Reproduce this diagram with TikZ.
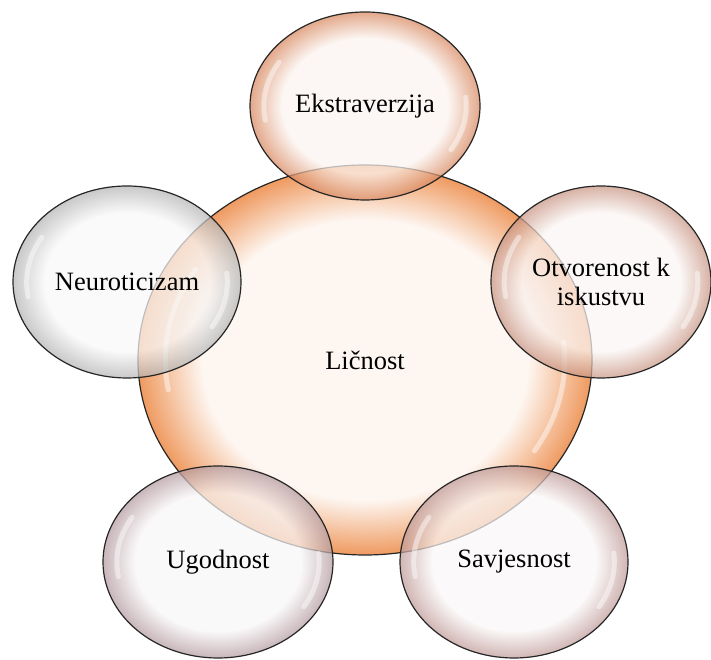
\documentclass[tikz,border=0pt]{standalone}
\usepackage{fontspec}
\setmainfont{Liberation Serif}
\usetikzlibrary{positioning,shapes.geometric}
\makeatletter
\pgfdeclareradialshading[tikz@radial@inner,tikz@radial@outer]{bubble}{\pgfpoint{0bp}{0bp}}{%
  color(0bp)=(tikz@radial@inner); color(18bp)=(tikz@radial@inner);
  color(25bp)=(tikz@radial@outer); color(50bp)=(tikz@radial@outer)}
\makeatother
\definecolor{licnostrim}{HTML}{EF9A60}
\definecolor{ekstrrim}{HTML}{D8875E}
\definecolor{neurorim}{HTML}{B4B4B4}
\definecolor{otvorrim}{HTML}{C89482}
\definecolor{ugodrim}{HTML}{B39AA0}
\definecolor{savjrim}{HTML}{BF9A98}
\newcommand{\glint}[3]{%
  \draw[gloss] ([shift={(148:0.88*#2 and 0.88*#3)}]#1.center)
    arc[start angle=148,end angle=190,x radius=0.88*#2,y radius=0.88*#3];
  \draw[gloss] ([shift={(-32:0.88*#2 and 0.88*#3)}]#1.center)
    arc[start angle=-32,end angle=6,x radius=0.88*#2,y radius=0.88*#3];}

\begin{document}
\begin{tikzpicture}[x=1pt,y=1pt,on grid]
    \tikzstyle{every node}=[ellipse,draw=black!85,line width=1.2,inner sep=0,align=center,font=\fontsize{26.5}{29}\selectfont]
    \tikzstyle{glass}=[inner color=#1!9!white,outer color=#1,shading=bubble]
    \tikzstyle{trait}=[fill opacity=0.72,text opacity=1,minimum width=228,minimum height=192]
    \tikzstyle{gloss}=[draw=white,line width=5,opacity=0.45,line cap=round]
    \useasboundingbox (0,0) rectangle (711,660);
    {
        \node[glass=licnostrim,minimum width=454,minimum height=390] (licnost) at (365,300) {Ličnost};
        \glint{licnost}{227}{195}

        \node[trait,glass=ekstrrim,minimum width=230,minimum height=188] (ekstr) [above=254pt of licnost] {Ekstraverzija};
        \node[trait,glass=neurorim] (neuro) [above left=78pt and 238pt of licnost] {Neuroticizam};
        \node[trait,glass=otvorrim,minimum width=220] (otvor) [above right=78pt and 236pt of licnost] {Otvorenost k\\iskustvu};
        \node[trait,glass=ugodrim,minimum width=230] (ugod) [below left=202pt and 147pt of licnost] {Ugodnost};
        \node[trait,glass=savjrim] (savj) [below right=202pt and 149pt of licnost] {Savjesnost};

        \glint{ekstr}{115}{94}
        \glint{neuro}{114}{96}
        \glint{otvor}{110}{96}
        \glint{ugod}{115}{96}
        \glint{savj}{114}{96}
    }
\end{tikzpicture}
\end{document}
